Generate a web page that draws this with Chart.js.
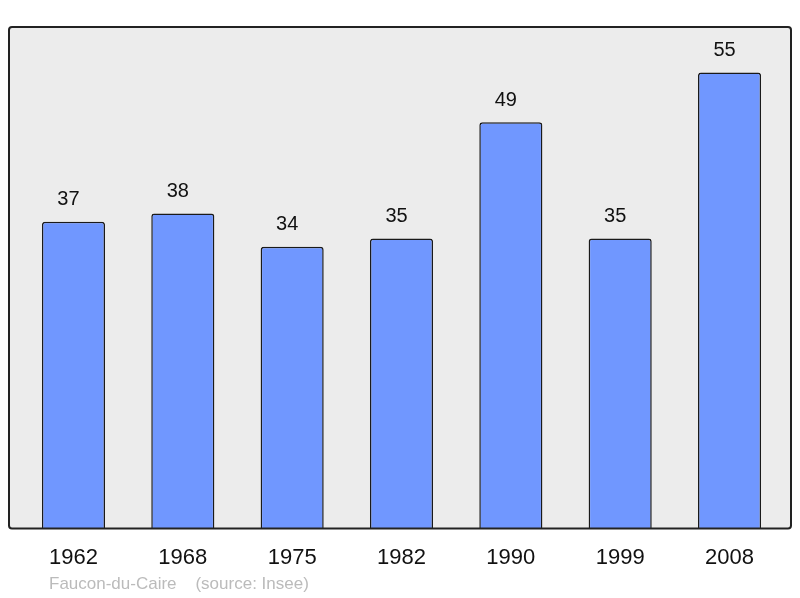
<!DOCTYPE html>
<html><head><meta charset="utf-8">
<script src="https://cdn.jsdelivr.net/npm/chart.js@4/dist/chart.umd.min.js"></script>
<style>html,body{margin:0;padding:0;background:#fff}#wrap{width:800px;height:598px}</style>
</head><body><div id="wrap"><canvas id="c" width="800" height="598"></canvas></div>
<script>
const categories = ["1962","1968","1975","1982","1990","1999","2008"];
const populations = [37, 38, 34, 35, 49, 35, 55];
const footerText = "Faucon-du-Caire    (source: Insee)";

const framePlugin = {
  id: 'frame',
  beforeDatasetsDraw(chart) {
    const {ctx, chartArea} = chart;
    const l = chartArea.left - 9.8, r = chartArea.right + 6.8, t = chartArea.top, b = chartArea.bottom;
    ctx.save();
    ctx.beginPath();
    ctx.roundRect(l, t, r - l, b - t, 3);
    ctx.fillStyle = '#ececec';
    ctx.fill();
    ctx.restore();
  },
  afterDatasetsDraw(chart) {
    const {ctx, chartArea} = chart;
    const l = chartArea.left - 9.8, r = chartArea.right + 6.8, t = chartArea.top, b = chartArea.bottom;
    ctx.save();
    ctx.beginPath();
    ctx.roundRect(l, t, r - l, b - t, 3);
    ctx.lineWidth = 2;
    ctx.strokeStyle = '#222';
    ctx.stroke();
    // value labels
    ctx.fillStyle = '#111';
    ctx.font = '20px "Liberation Sans", Arial, sans-serif';
    ctx.textAlign = 'center';
    ctx.textBaseline = 'middle';
    const meta = chart.getDatasetMeta(0);
    meta.data.forEach((bar, i) => {
      ctx.fillText(String(populations[i]), bar.x - 5, bar.y - 22);
    });
    // footer
    ctx.fillStyle = '#bbbbbb';
    ctx.font = '17px "Liberation Sans", Arial, sans-serif';
    ctx.textAlign = 'left';
    ctx.fillText(footerText, 49, 584);
    ctx.restore();
  }
};

new Chart(document.getElementById('c'), {
  type: 'bar',
  data: {
    labels: categories,
    datasets: [{
      data: populations,
      backgroundColor: '#7097ff',
      borderColor: '#1a1a1a',
      borderWidth: 1.5,
      borderRadius: 3,
      borderSkipped: 'bottom',
      barPercentage: 0.577,
      categoryPercentage: 1
    }]
  },
  options: {
    responsive: false,
    animation: false,
    devicePixelRatio: 1,
    layout: { padding: { left: 18.8, right: 15.8, top: 27, bottom: 19 } },
    plugins: { legend: { display: false }, tooltip: { enabled: false } },
    scales: {
      x: {
        grid: { display: false },
        border: { display: false },
        ticks: { color: '#111', font: { size: 22, family: '"Liberation Sans", Arial, sans-serif' }, padding: 8, maxRotation: 0 }
      },
      y: {
        display: false,
        min: 0,
        max: 60.5
      }
    }
  },
  plugins: [framePlugin]
});
</script>
</body></html>
